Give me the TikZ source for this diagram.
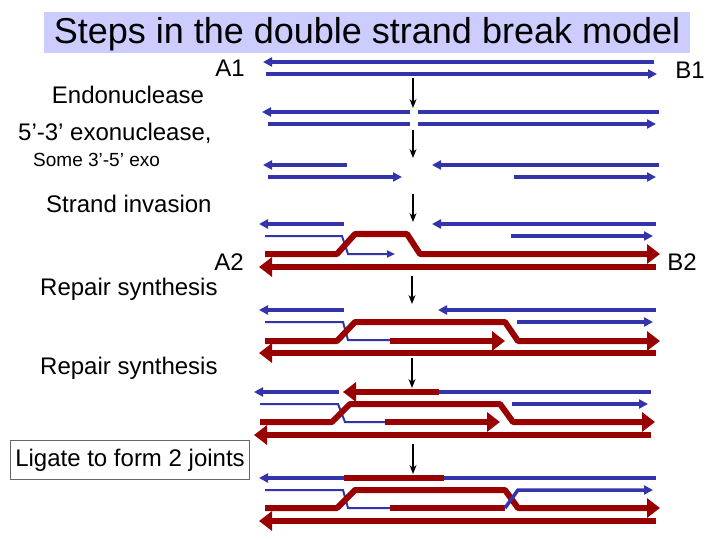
\documentclass[tikz,border=0pt]{standalone}
\usepackage{fontspec}
\setmainfont{Liberation Sans}
\usetikzlibrary{arrows.meta}
\definecolor{bl}{RGB}{51,51,170}
\definecolor{rd}{RGB}{153,0,0}
\definecolor{ttl}{RGB}{204,204,255}
\tikzset{
 bs/.style={bl,line width=3.5pt},
 bsa/.style={bs,-{Triangle[length=9pt,width=9pt]}},
 bt/.style={bl,line width=2pt},
 rs/.style={rd,line width=6pt},
 rsa/.style={rs,-{Triangle[length=13pt,width=19pt]}},
 va/.style={black,line width=1.3pt,-{Stealth[length=9pt,width=7pt]}},
 lbl/.style={font=\fontsize{24}{28}\selectfont,inner sep=0pt}
}
\begin{document}
\begin{tikzpicture}[x=1pt,y=-1pt]
\useasboundingbox (0,0) rectangle (720,540);
\node[fill=ttl,minimum width=646,minimum height=41,anchor=north west,inner sep=0] (tb) at (44,12) {};
\node[font=\fontsize{36}{40}\selectfont] (t) at (367,34) {Steps in the double strand break model};
\node[lbl] (a1) at (230,68) {A1};
\node[lbl] (en) at (128,95) {Endonuclease};
\node[lbl] (b1) at (690,70) {B1};
\node[lbl,anchor=west] (ex) at (18,133) {5’-3’ exonuclease,};
\node[lbl,anchor=west,font=\fontsize{19}{22}\selectfont] (s3) at (33,160) {Some 3’-5’ exo};
\node[lbl,anchor=west] (si) at (46,204) {Strand invasion};
\node[lbl] (a2) at (229,262) {A2};
\node[lbl] (b2) at (682,262) {B2};
\node[lbl,anchor=west] (r1) at (40,289) {Repair synthesis};
\node[lbl,anchor=west] (r2) at (40,368) {Repair synthesis};
\node[lbl,draw=black!60,line width=0.8pt,inner xsep=5pt,inner ysep=8pt] (lg) at (130,460) {Ligate to form 2 joints};
% row 1
\draw[bsa] (654,62) -- (263,62);
\draw[bsa] (266,74) -- (657,74);
\draw[va] (413,78) -- (413,108);
% row 2
\draw[bsa] (410,112) -- (262,112);
\draw[bs] (418,112) -- (659,112);
\draw[bs] (268,124) -- (410,124);
\draw[bsa] (418,124) -- (656,124);
\draw[va] (413,130) -- (413,158);
% row 3
\draw[bsa] (347,165) -- (263,165);
\draw[bsa] (659,165) -- (432,165);
\draw[bsa] (268,177) -- (402,177);
\draw[bsa] (514,177) -- (656,177);
\draw[va] (413,194) -- (413,222);
% row 4
\draw[bsa] (344,224) -- (259,224);
\draw[bsa] (656,224) -- (432,224);
\draw[bsa] (511,236) -- (653,236);
\draw[bt,-{Triangle[length=8pt,width=7pt]}] (265,236) -- (342,236) -- (348,254) -- (395,254);
\draw[rsa,line join=round] (265,254) -- (337,254) -- (355,234) -- (407,234) -- (420,254) -- (660,254);
\draw[rsa] (656,267) -- (259,267);
\draw[va] (412,276) -- (412,304);
% row 5
\draw[bsa] (344,310) -- (259,310);
\draw[bsa] (656,310) -- (438,310);
\draw[bsa] (517,322) -- (653,322);
\draw[bt] (265,322) -- (343,322) -- (348,340) -- (392,340);
\draw[rsa] (390,341) -- (505,341);
\draw[rsa,line join=round] (265,341) -- (337,341) -- (355,322) -- (505,322) -- (518,341) -- (660,341);
\draw[rsa] (656,353) -- (259,353);
\draw[va] (412,358) -- (412,388);
% row 6
\draw[bsa] (339,392) -- (254,392);
\draw[bs] (439,392) -- (651,392);
\draw[rsa] (439,392) -- (343,392);
\draw[bsa] (512,404) -- (648,404);
\draw[bt] (260,404) -- (338,404) -- (345,422) -- (387,422);
\draw[rsa] (385,422) -- (500,422);
\draw[rsa,line join=round] (260,422) -- (332,422) -- (350,404) -- (500,404) -- (513,422) -- (655,422);
\draw[rsa] (651,435) -- (254,435);
\draw[va] (413,444) -- (413,474);
% row 7
\draw[bsa] (344,478) -- (259,478);
\draw[bs] (444,478) -- (656,478);
\draw[rs] (344,478) -- (444,478);
\draw[bt] (265,490) -- (343,490) -- (348,508) -- (392,508);
\draw[rs] (390,508) -- (505,508);
\draw[rsa,line join=round] (265,508) -- (337,508) -- (355,490) -- (505,490) -- (518,508) -- (660,508);
\draw[bs,-{Triangle[length=9pt,width=9pt]}] (505,508) -- (518,490) -- (653,490);
\draw[rsa] (656,521) -- (259,521);
\end{tikzpicture}
\end{document}
